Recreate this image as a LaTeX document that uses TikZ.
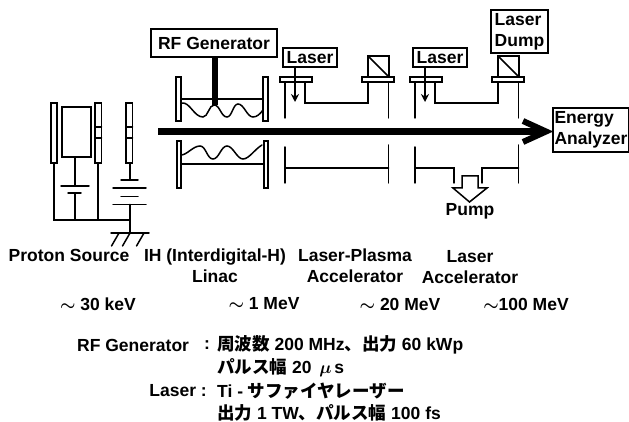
\documentclass[tikz,border=0pt]{standalone}
\usepackage{amsmath}
\usepackage{fontspec}
\setmainfont{Liberation Sans}
\newfontfamily\cjk{Noto Sans CJK JP}
\usetikzlibrary{arrows.meta}
\tikzset{
  wire/.style={line width=1.5pt, line cap=round},
  plate/.style={draw, fill=white, line width=1.5pt},
  labelbox/.style={draw, fill=white, line width=1.5pt, inner sep=0pt, align=left,
    font=\fontsize{17.5}{21}\selectfont\bfseries},
  txt/.style={font=\fontsize{17.5}{21.5}\selectfont\bfseries, inner sep=0pt, align=center},
  jtxt/.style={font=\fontsize{17.5}{21}\selectfont\bfseries, inner sep=0pt, anchor=west}
}
\begin{document}
\begin{tikzpicture}[x=1pt,y=-1pt]
  \useasboundingbox (0,0) rectangle (629,422);
  % Proton source
  \draw[plate] (51,103) rectangle (57,163);
  \draw[plate] (62,107) rectangle (91,157);
  \foreach \x in {95,126}{
    \draw[plate] (\x,103) rectangle (\x+6.5,163);
    \draw[wire] (\x,127) -- (\x+6.5,127) (\x,138) -- (\x+6.5,138);
  }
  \draw[wire] (54,163) -- (54,220) -- (130,220);
  \draw[wire] (98,163) -- (98,220);
  \draw[wire] (75,157) -- (75,186) (61,186) -- (89,186);
  \draw[wire] (68,193) -- (81,193) (75,193) -- (75,220);
  \draw[wire] (130,163) -- (130,180) (121,180) -- (138,180);
  \draw[wire] (113,188) -- (146,188) (121,196.5) -- (138,196.5) (113,204.5) -- (146,204.5);
  \draw[wire] (130,204.5) -- (130,233) (111,233) -- (149,233);
  \foreach \x in {119,130,144}
    \draw[wire] (\x,233) -- (\x-7.5,246);

  % IH linac
  \node[labelbox, minimum width=126pt, minimum height=28pt] (rfbox) at (214,43) {RF Generator};
  \fill (212,57) rectangle (218,105);
  \foreach \x in {176,263}{
    \draw[plate] (\x,77) rectangle (\x+5,121);
    \draw[plate] (\x+1,141) rectangle (\x+5,188);
  }
  \draw[wire] (181,99) -- (263,99) (181,164) -- (263,164);
  \draw[wire] (182,103) .. controls (190,102) and (194,117) .. (203,117)
    .. controls (208,117) and (209,105) .. (214,105)
    .. controls (220,105) and (221,117) .. (227,117)
    .. controls (232,117) and (233,104) .. (238,104)
    .. controls (244,104) and (247,117) .. (253,117)
    .. controls (257,117) and (260,114) .. (263,110);
  \draw[wire] (181,155) .. controls (187,155) and (193,146) .. (200,146)
    .. controls (206,146) and (207,159) .. (213,159)
    .. controls (219,159) and (221,146) .. (227,146)
    .. controls (233,146) and (237,159) .. (243,159)
    .. controls (249,159) and (255,149) .. (262,145);

  % Laser sections
  \foreach \x/\nm in {0/one,130/two}{
    \begin{scope}[xshift=\x pt]
      \draw[wire] (285,82) -- (285,118) (388.5,82) -- (388.5,118);
      \draw[wire] (305,82) -- (305,103) -- (368,103) -- (368,82);
      \draw[plate] (368,56) rectangle (389,77);
      \draw[wire] (368,56) -- (389,77);
      \draw[plate] (280,77) rectangle (312,82);
      \draw[plate] (362,77) rectangle (394,82);
      \node[labelbox, minimum width=54pt, minimum height=19pt] (laser\nm) at (310,57.5) {Laser};
      \coordinate (tip\nm) at (295,102);
      \draw[wire, -{Stealth[length=8pt,width=8pt]}] (laser\nm.south -| tip\nm) -- (tip\nm);
      \draw[wire] (285,147) -- (285,183) (388.5,145) -- (388.5,183);
    \end{scope}
  }
  \draw[wire] (285,168) -- (388.5,168);
  \draw[wire] (415,168) -- (454,168) -- (454,183);
  \draw[wire] (482,183) -- (482,168) -- (518.5,168);

  % Pump
  \draw[plate] (462,176) -- (478,176) -- (478,188) -- (487,188) -- (469.5,202) -- (453,188) -- (462,188) -- cycle;
  \node[txt] (pump) at (470,211) {Pump};

  \node[labelbox, minimum width=57pt, minimum height=43pt] (dump) at (519.5,31.5) {Laser\\Dump};
  \node[labelbox, minimum width=76pt, minimum height=44pt] (analyzer) at (591,130) {Energy\\Analyzer};

  % Beam
  \coordinate (beamstart) at (158,131.5);
  \draw[line width=7pt] (beamstart) -- (546,131.5);
  \draw[line width=6pt] (523,121) -- (546,131.5) -- (523,142);

  % Stages
  \node[txt] (source) at (69,255) {Proton Source};
  \node[txt] (ih) at (215,265.5) {IH (Interdigital-H)\\Linac};
  \node[txt] (lpa) at (355,265.5) {Laser-Plasma\\Accelerator};
  \node[txt] (la) at (470,267) {Laser\\Accelerator};

  \node[txt] (e1) at (98,304) {$\boldsymbol{\sim}$ 30 keV};
  \node[txt] (e2) at (264,304) {$\boldsymbol{\sim}$ 1 MeV};
  \node[txt] (e3) at (400,304) {$\boldsymbol{\sim}$ 20 MeV};
  \node[txt] (e4) at (526,304) {$\boldsymbol{\sim}$100 MeV};

  % Parameters
  \node[txt, anchor=west] (rflabel) at (77,345) {RF Generator};
  \node[txt] (rfcolon) at (207,345) {:};
  \node[jtxt] (rf1) at (217,345) {{\cjk\bfseries 周波数} 200 MHz{\cjk\bfseries 、出力} 60 kWp};
  \node[jtxt] (rf2) at (217,368) {{\cjk\bfseries パルス幅} 20 \,$\boldsymbol{\mu}$\,s};
  \node[txt, anchor=east] (laserlabel) at (207,391) {Laser :};
  \node[jtxt] (l1) at (217,391) {Ti - {\cjk\bfseries サファイヤレーザー}};
  \node[jtxt] (l2) at (217,413) {{\cjk\bfseries 出力} 1 TW{\cjk\bfseries 、パルス幅} 100 fs};
\end{tikzpicture}
\end{document}
